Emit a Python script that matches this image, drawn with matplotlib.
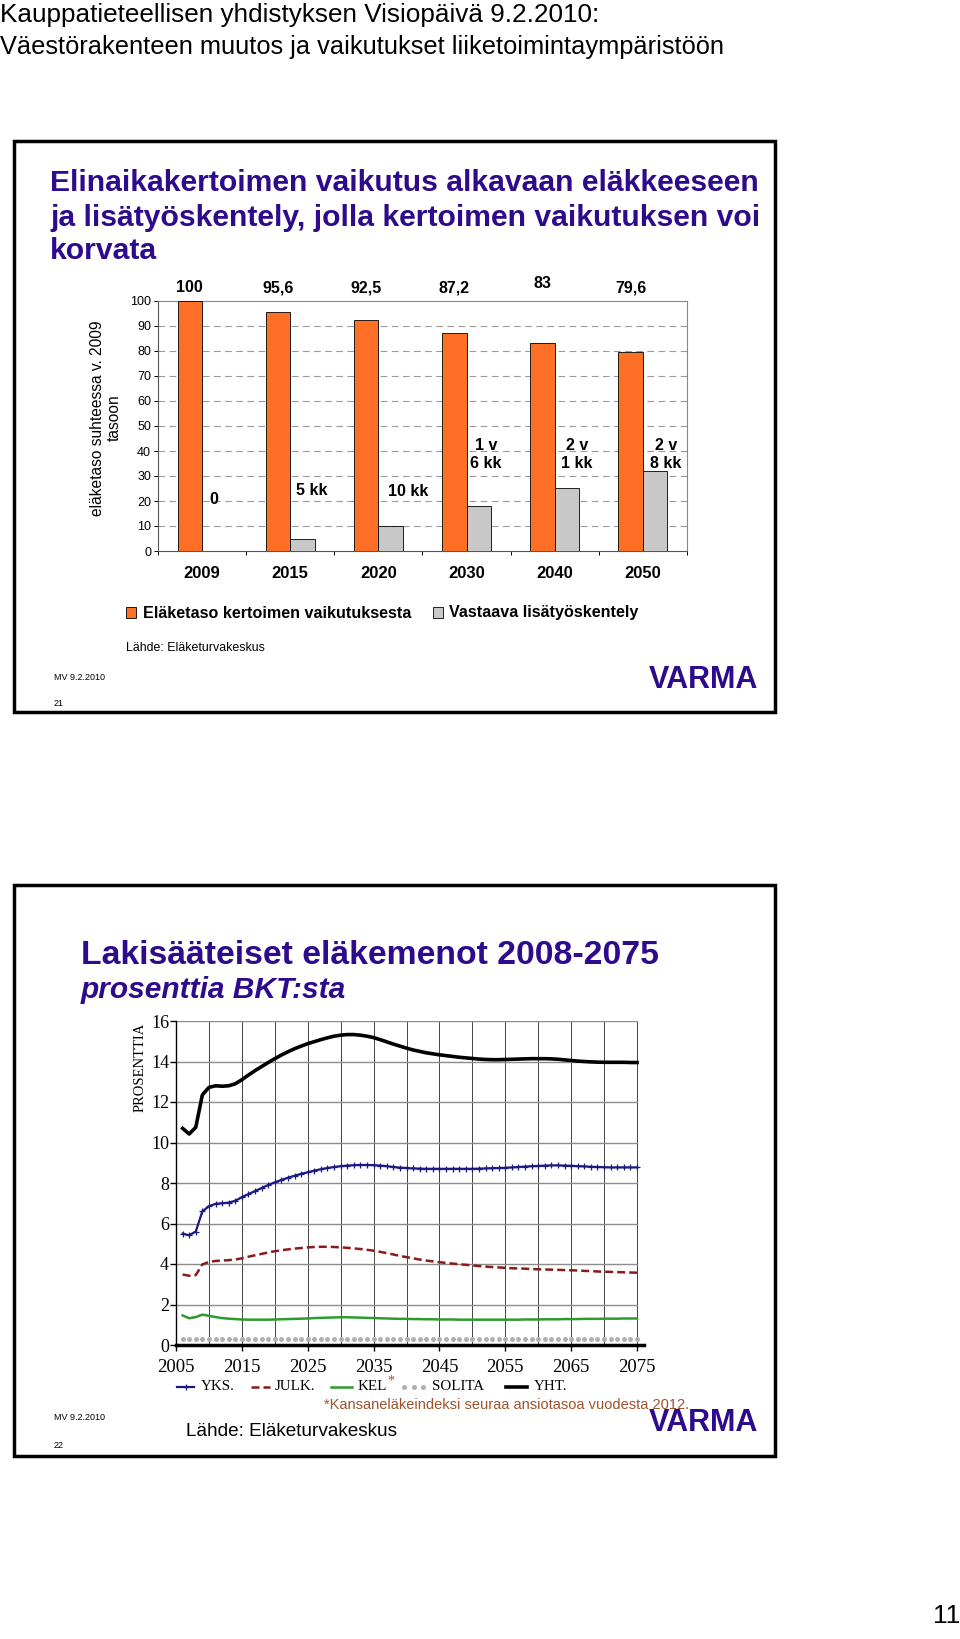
import matplotlib
matplotlib.use('Agg')
import matplotlib.pyplot as plt
from matplotlib.patches import Rectangle
from matplotlib.lines import Line2D
from matplotlib.ticker import FixedLocator
import numpy as np

# ---------------- data ----------------
bar_categories = ['2009', '2015', '2020', '2030', '2040', '2050']
pension_level = [100, 95.6, 92.5, 87.2, 83, 79.6]
extra_work = [0, 5, 10, 18, 25, 32]
pension_labels = ['100', '95,6', '92,5', '87,2', '83', '79,6']
work_labels = ['0', '5 kk', '10 kk', '1 v\n6 kk', '2 v\n1 kk', '2 v\n8 kk']

years = list(range(2006, 2076))
yks = [5.50, 5.42, 5.60, 6.60, 6.85, 6.97, 7.00, 7.03, 7.12, 7.30,
       7.45, 7.60, 7.75, 7.90, 8.03, 8.15, 8.26, 8.36, 8.45, 8.53,
       8.61, 8.68, 8.74, 8.79, 8.83, 8.86, 8.88, 8.89, 8.89, 8.88,
       8.86, 8.83, 8.79, 8.76, 8.74, 8.72, 8.71, 8.70, 8.70, 8.70,
       8.70, 8.70, 8.70, 8.70, 8.70, 8.71, 8.72, 8.73, 8.74, 8.75,
       8.77, 8.79, 8.81, 8.83, 8.84, 8.86, 8.87, 8.87, 8.86, 8.85,
       8.83, 8.82, 8.80, 8.79, 8.78, 8.77, 8.77, 8.77, 8.77, 8.77]
julk = [3.48, 3.42, 3.45, 3.98, 4.10, 4.15, 4.17, 4.19, 4.22, 4.28,
        4.36, 4.43, 4.50, 4.57, 4.63, 4.68, 4.72, 4.76, 4.79, 4.82,
        4.84, 4.85, 4.85, 4.84, 4.82, 4.80, 4.77, 4.74, 4.70, 4.66,
        4.60, 4.54, 4.47, 4.40, 4.34, 4.28, 4.22, 4.17, 4.13, 4.09,
        4.05, 4.02, 3.99, 3.96, 3.93, 3.90, 3.87, 3.85, 3.83, 3.81,
        3.79, 3.78, 3.77, 3.75, 3.74, 3.73, 3.72, 3.71, 3.70, 3.69,
        3.68, 3.66, 3.65, 3.63, 3.62, 3.61, 3.60, 3.59, 3.58, 3.57]
kel = [1.46, 1.32, 1.38, 1.50, 1.44, 1.38, 1.33, 1.30, 1.28, 1.26,
       1.25, 1.25, 1.25, 1.25, 1.26, 1.27, 1.28, 1.29, 1.30, 1.31,
       1.33, 1.34, 1.35, 1.36, 1.37, 1.37, 1.36, 1.35, 1.34, 1.33,
       1.32, 1.31, 1.30, 1.29, 1.29, 1.28, 1.28, 1.27, 1.27, 1.26,
       1.26, 1.26, 1.25, 1.25, 1.25, 1.25, 1.25, 1.25, 1.25, 1.25,
       1.25, 1.25, 1.26, 1.26, 1.26, 1.27, 1.27, 1.27, 1.28, 1.28,
       1.28, 1.29, 1.29, 1.29, 1.30, 1.30, 1.30, 1.31, 1.31, 1.31]
solita = [0.32, 0.32, 0.32, 0.32, 0.31, 0.31, 0.31, 0.30, 0.30, 0.30,
          0.29, 0.29, 0.29, 0.29, 0.28, 0.28, 0.28, 0.28, 0.28, 0.28,
          0.28, 0.28, 0.28, 0.28, 0.28, 0.28, 0.28, 0.28, 0.28, 0.28,
          0.28, 0.28, 0.28, 0.28, 0.28, 0.28, 0.28, 0.29, 0.29, 0.29,
          0.29, 0.29, 0.29, 0.30, 0.30, 0.30, 0.30, 0.30, 0.30, 0.30,
          0.31, 0.31, 0.31, 0.31, 0.31, 0.31, 0.31, 0.32, 0.32, 0.32,
          0.32, 0.32, 0.32, 0.32, 0.32, 0.32, 0.32, 0.32, 0.32, 0.32]
yht = [10.70, 10.42, 10.75, 12.35, 12.72, 12.80, 12.78, 12.80, 12.90, 13.10,
       13.33, 13.55, 13.75, 13.95, 14.14, 14.32, 14.48, 14.63, 14.76, 14.88,
       14.98, 15.08, 15.17, 15.25, 15.30, 15.33, 15.33, 15.30, 15.25, 15.18,
       15.08, 14.97, 14.86, 14.76, 14.66, 14.57, 14.50, 14.43, 14.38, 14.33,
       14.29, 14.25, 14.21, 14.18, 14.15, 14.12, 14.10, 14.09, 14.09, 14.10,
       14.11, 14.12, 14.13, 14.14, 14.14, 14.14, 14.13, 14.11, 14.08, 14.05,
       14.02, 14.00, 13.98, 13.97, 13.96, 13.96, 13.96, 13.96, 13.95, 13.95]
line_xticks = [2005, 2015, 2025, 2035, 2045, 2055, 2065, 2075]
line_yticks = [0, 2, 4, 6, 8, 10, 12, 14, 16]

# ---------------- page setup ----------------
W, H = 960, 1639
fig = plt.figure(figsize=(9.6, 16.39), dpi=100)
fig.patch.set_facecolor('white')


def fx(x):
    return x / W


def fy(y):
    return 1 - y / H


SANS = ['Liberation Sans', 'DejaVu Sans']
SERIF = ['Liberation Serif', 'DejaVu Serif']
PURPLE = '#2E0A8C'
ORANGE = '#FF6F26'
GREY_BAR = '#C8C8C8'


def ftext(x, y, s, **kw):
    kw.setdefault('family', SANS)
    return fig.text(fx(x), fy(y), s, **kw)


# header
ftext(0, 22, 'Kauppatieteellisen yhdistyksen Visiopäivä 9.2.2010:', fontsize=18.8, va='baseline')
ftext(0, 54, 'Väestörakenteen muutos ja vaikutukset liiketoimintaympäristöön', fontsize=18.3,
      va='baseline')

# slide frames
for (x0, y0, x1, y1) in [(14, 141, 775, 712), (14, 885, 775, 1456)]:
    fig.patches.append(Rectangle((fx(x0), fy(y1)), fx(x1) - fx(x0), fy(y0) - fy(y1),
                                 transform=fig.transFigure, fill=False,
                                 edgecolor='black', linewidth=2.5))

# ---------------- slide 1 ----------------
for yb, line in zip([191, 226, 259], ['Elinaikakertoimen vaikutus alkavaan eläkkeeseen',
                                      'ja lisätyöskentely, jolla kertoimen vaikutuksen voi',
                                      'korvata']):
    ftext(50, yb, line, fontsize=21.7, weight='bold', color=PURPLE, va='baseline')

ax1 = fig.add_axes([fx(158), fy(551), (687 - 158) / W, (551 - 301) / H])
x = np.arange(len(bar_categories))
bw = 0.278
ax1.bar(x - bw / 2, pension_level, bw, color=ORANGE, edgecolor='black', linewidth=0.6, zorder=3)
ax1.bar(x + bw / 2, extra_work, bw, color=GREY_BAR, edgecolor='black', linewidth=0.6, zorder=3)
ax1.set_xlim(-0.5, 5.5)
ax1.set_ylim(0, 100)
ax1.set_yticks(range(0, 101, 10))
ax1.tick_params(axis='y', labelsize=9, length=3, width=0.7, pad=2)
for t in ax1.get_yticklabels():
    t.set_family(SANS)
ax1.set_xticks(x)
ax1.set_xticklabels(bar_categories, fontsize=12, weight='bold', family=SANS)
ax1.tick_params(axis='x', length=0, pad=11)
ax1.xaxis.set_minor_locator(FixedLocator(np.arange(-0.5, 6, 1)))
ax1.tick_params(axis='x', which='minor', length=3, width=0.7)
for yv in range(10, 100, 10):
    ax1.axhline(yv, color='#9a9a9a', linestyle=(0, (6, 4)), linewidth=0.8, zorder=1)
for s in ['top', 'right']:
    ax1.spines[s].set_color('#888888')
for s in ['left', 'bottom']:
    ax1.spines[s].set_color('#555555')

label_y = [105.2, 105.2, 105.2, 105.2, 106.8, 105.2]
for i, (lab, ly) in enumerate(zip(pension_labels, label_y)):
    ax1.text(x[i] - bw / 2, ly, lab, ha='center', va='center', fontsize=11.5,
             weight='bold', family=SANS, clip_on=False)
work_dx = [0.135, 0.24, 0.335, 0.22, 0.25, 0.26]
work_y = [20.4, 24.3, 24.0, 38.5, 38.5, 38.5]
for i, lab in enumerate(work_labels):
    ax1.text(x[i] + work_dx[i], work_y[i], lab, ha='center', va='center', fontsize=11.5,
             weight='bold', family=SANS, linespacing=1.25, zorder=4)

ftext(106, 418, 'eläketaso suhteessa v. 2009\ntasoon', rotation=90, ha='center', va='center',
      fontsize=11.2, multialignment='center', linespacing=1.2)

# legend slide 1
fig.patches.append(Rectangle((fx(126), fy(618)), 10 / W, 11 / H, transform=fig.transFigure,
                             facecolor=ORANGE, edgecolor='black', linewidth=0.6))
ftext(143, 613, 'Eläketaso kertoimen vaikutuksesta', fontsize=11.6, weight='bold', va='center')
fig.patches.append(Rectangle((fx(433), fy(618)), 10 / W, 11 / H, transform=fig.transFigure,
                             facecolor=GREY_BAR, edgecolor='black', linewidth=0.6))
ftext(449, 613, 'Vastaava lisätyöskentely', fontsize=11.6, weight='bold', va='center')

ftext(126, 648, 'Lähde: Eläketurvakeskus', fontsize=8.9, va='center')
ftext(54, 677, 'MV 9.2.2010', fontsize=6.5, va='center')
ftext(54, 703, '21', fontsize=6.5, va='center')
ftext(703, 680, 'VARMA', fontsize=22, weight='bold', color=PURPLE, ha='center', va='center')

# ---------------- slide 2 ----------------
ftext(81, 964, 'Lakisääteiset eläkemenot 2008-2075', fontsize=24.3,
      weight='bold', color=PURPLE, va='baseline')
ftext(81, 998, 'prosenttia BKT:sta', fontsize=21.5, weight='bold',
      style='italic', color=PURPLE, va='baseline')

x0px, x1px = 176, 637
y0px, y16px = 1345, 1021
px_per_year = (x1px - x0px) / 70
ax2 = fig.add_axes([fx(x0px), fy(y0px), (71 * px_per_year) / W, (y0px - y16px) / H])
ax2.set_xlim(2005, 2076)
ax2.set_ylim(0, 16)
for xv in range(2005, 2076, 5):
    ax2.plot([xv, xv], [0, 16], color='#444444', linewidth=0.7, zorder=1)
for yv in range(2, 17, 2):
    ax2.plot([2005, 2075], [yv, yv], color='#8c8c8c', linewidth=1.0, zorder=1)

ax2.plot(years, solita, linestyle='none', marker='o', markersize=3.6, color='#B0B0B0',
         markeredgewidth=0, zorder=3)
ax2.plot(years, kel, color='#2E9B2E', linewidth=1.8, zorder=4)
ax2.plot(years, julk, color='#8B1A1A', linewidth=1.8, linestyle=(0, (3.2, 1.6)), zorder=4)
ax2.plot(years, yks, color='#1A1A80', linewidth=1.6, marker='+', markersize=5,
         markeredgewidth=0.9, zorder=5)
ax2.plot(years, yht, color='black', linewidth=2.6, zorder=6)

for s in ['top', 'right']:
    ax2.spines[s].set_visible(False)
ax2.spines['bottom'].set_linewidth(2.5)
ax2.spines['left'].set_linewidth(1.0)
ax2.set_xticks(line_xticks)
ax2.set_xticklabels([str(v) for v in line_xticks], family=SERIF, fontsize=13.5)
ax2.set_yticks(line_yticks)
ax2.set_yticklabels([str(v) for v in line_yticks], family=SERIF, fontsize=13)
ax2.tick_params(axis='x', length=4, width=1, pad=6)
ax2.tick_params(axis='y', length=4, width=1, pad=1)

ftext(140, 1067, 'PROSENTTIA', family=SERIF, rotation=90, ha='center', va='center', fontsize=10.5)

# legend slide 2
leg_y = 1387
legend_items = [
    (177, 194, 201, 'YKS.', dict(color='#1A1A80', linewidth=1.6, marker='+', markersize=5,
                                 markevery=[1], markeredgewidth=0.9)),
    (251, 270, 275, 'JULK.', dict(color='#8B1A1A', linewidth=1.8, linestyle=(0, (3.2, 1.6)))),
    (331, 352, 358, 'KEL', dict(color='#2E9B2E', linewidth=1.8)),
    (402, 425, 432, 'SOLITA', None),
    (506, 527, 534, 'YHT.', dict(color='black', linewidth=2.6)),
]
for xa, xb, xt, lab, style in legend_items:
    if style is not None:
        xs = [fx(xa), fx((xa + xb) / 2), fx(xb)]
        fig.add_artist(Line2D(xs, [fy(leg_y)] * 3, transform=fig.transFigure, **style))
    else:
        fig.add_artist(Line2D([fx(xa + 2), fx((xa + xb) / 2), fx(xb - 2)], [fy(leg_y)] * 3,
                              transform=fig.transFigure, linestyle='none', marker='o',
                              markersize=3.6, color='#B0B0B0', markeredgewidth=0))
    ftext(xt, leg_y, lab, family=SERIF, fontsize=10.8, va='center')
ftext(391, 1381, '*', family=SERIF, fontsize=10, color='#A0522D', ha='center', va='center')

ftext(324, 1405, '*Kansaneläkeindeksi seuraa ansiotasoa vuodesta 2012.', fontsize=10.5,
      color='#A0522D', va='center')
ftext(54, 1418, 'MV 9.2.2010', fontsize=6.5, va='center')
ftext(54, 1445, '22', fontsize=6.5, va='center')
ftext(186, 1431, 'Lähde: Eläketurvakeskus', fontsize=13.7, va='center')
ftext(703, 1423, 'VARMA', fontsize=22, weight='bold', color=PURPLE, ha='center', va='center')

ftext(960, 1616, '11', fontsize=19, ha='right', va='center')

fig.savefig('out.png', dpi=100, facecolor='white')
